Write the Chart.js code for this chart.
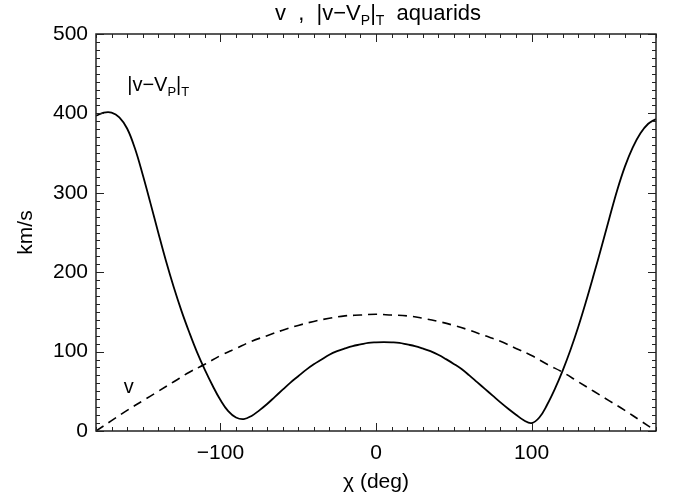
<!DOCTYPE html>
<html>
<head>
<meta charset="utf-8">
<script src="https://cdn.jsdelivr.net/npm/chart.js@4/dist/chart.umd.min.js"></script>
<style>
  html, body { margin: 0; padding: 0; background: #fff; }
  #wrap { width: 679px; height: 498px; }
</style>
</head>
<body>
<div id="wrap"><canvas id="chart"></canvas></div>
<script>
// ---- DATA ----
const chiSolid = [-180,-175,-170,-165,-160,-155,-150,-145,-140,-135,-130,-125,-120,-115,-110,-105,-100,-95,-90,-85,
                  -80,-75,-70,-65,-60,-55,-50,-45,-40,-35,-30,-25,-20,-15,-10,-5,0,5,10,15,
                  20,25,30,35,40,45,50,55,60,65,70,75,80,85,90,95,100,105,110,115,
                  120,125,130,135,140,145,150,155,160,165,170,175,180];
const vRelT = [397,401,401,395,381,356,323,287,250,214,181,151,124,99,77,57,39,25,17,15,
               19,26,34,43,52,61,69,77,84,90,96,100.5,104,107,109,111,111.7,112,111.7,111,
               109,107,104,100.5,96,90.5,84.5,78,70,61.5,53,44.5,36,28,20.5,13.5,10,17,33,53,
               76,102,131,163,197,232,268,303,333,357,375,387,393];

const chiDash = [-180,-170,-160,-150,-140,-130,-120,-110,-100,-90,-80,-70,-60,-50,-40,-30,-20,-10,0,
                 10,20,30,40,50,60,70,80,90,100,110,120,130,140,150,160,170,180];
const vVals = [0,13,26,38,50,62,74,84,95,104,113,120,127,133,138,142,145,146,147,
               146,145,142,138,133,127,120,113,104,95,84,74,62,50,38,26,13,0];

const xTicks = [-100, 0, 100];
const yTicks = [0, 100, 200, 300, 400, 500];

const FONT = "'Liberation Sans', Arial, sans-serif";

function pairs(xs, ys) { return xs.map((x, i) => ({ x: x, y: ys[i] })); }

// text with subscripts: parts = [[text, isSub], ...]
function drawRich(ctx, parts, cx, cy, size) {
    const subSize = Math.round(size * 0.65);
    let total = 0;
    parts.forEach(p => {
        ctx.font = (p[1] ? subSize : size) + 'px ' + FONT;
        total += ctx.measureText(p[0]).width;
    });
    let x = cx - total / 2;
    ctx.textAlign = 'left';
    ctx.textBaseline = 'alphabetic';
    parts.forEach(p => {
        ctx.font = (p[1] ? subSize : size) + 'px ' + FONT;
        ctx.fillText(p[0], x, cy + (p[1] ? size * 0.22 : 0));
        x += ctx.measureText(p[0]).width;
    });
}

// IDL style box: frame, inward ticks on all four sides, title and curve labels
const idlFrame = {
    id: 'idlFrame',
    afterDraw(chart) {
        const { ctx, chartArea: a, scales: { x, y } } = chart;
        ctx.save();
        ctx.strokeStyle = '#222';
        ctx.lineWidth = 1;
        ctx.beginPath();
        for (let v = x.min; v <= x.max; v += 10) {
            const px = Math.round(x.getPixelForValue(v)) + 0.5;
            const len = v % 100 === 0 ? 8 : 4;
            ctx.moveTo(px, a.bottom); ctx.lineTo(px, a.bottom - len);
            ctx.moveTo(px, a.top); ctx.lineTo(px, a.top + len);
        }
        for (let v = y.min; v <= y.max; v += 10) {
            const py = Math.round(y.getPixelForValue(v)) + 0.5;
            const len = v % 100 === 0 ? 8 : 4;
            ctx.moveTo(a.left, py); ctx.lineTo(a.left + len, py);
            ctx.moveTo(a.right, py); ctx.lineTo(a.right - len, py);
        }
        ctx.stroke();
        ctx.lineWidth = 1.5;
        ctx.strokeRect(a.left, a.top, a.right - a.left, a.bottom - a.top);

        ctx.fillStyle = '#000';
        drawRich(ctx, [['v  ,  |v\u2212V', false], ['P', true], ['|', false], ['T', true], ['  aquarids', false]],
                 (a.left + a.right) / 2 + 2, 20, 22);
        drawRich(ctx, [['|v\u2212V', false], ['P', true], ['|', false], ['T', true]],
                 x.getPixelForValue(-140), y.getPixelForValue(428), 20);
        drawRich(ctx, [['v', false]], x.getPixelForValue(-159), y.getPixelForValue(48), 20);
        ctx.restore();
    }
};

new Chart(document.getElementById('chart'), {
    type: 'line',
    data: {
        datasets: [
            {
                label: '|v-Vp|T',
                data: pairs(chiSolid, vRelT),
                borderColor: '#000',
                borderWidth: 1.8,
                pointRadius: 0,
                tension: 0.4,
                fill: false
            },
            {
                label: 'v',
                data: pairs(chiDash, vVals),
                borderColor: '#000',
                borderWidth: 1.6,
                borderDash: [9, 6],
                pointRadius: 0,
                tension: 0.4,
                fill: false
            }
        ]
    },
    options: {
        responsive: true,
        maintainAspectRatio: false,
        animation: false,
        layout: { padding: { left: 0, right: 23, top: 34, bottom: 0 } },
        plugins: {
            legend: { display: false },
            tooltip: { enabled: false }
        },
        scales: {
            x: {
                type: 'linear',
                min: -180,
                max: 180,
                grid: { display: false, drawTicks: false },
                border: { display: false },
                afterBuildTicks: s => { s.ticks = xTicks.map(v => ({ value: v })); },
                afterFit: s => { s.height = 67; },
                ticks: {
                    color: '#000',
                    padding: 10,
                    maxRotation: 0,
                    font: { family: FONT, size: 21 },
                    callback: v => v === 0 ? '0' : (v < 0 ? '\u2212' + Math.abs(v) : String(v))
                },
                title: {
                    display: true,
                    text: '\u03c7 (deg)',
                    color: '#000',
                    padding: { top: 4, bottom: 3 },
                    font: { family: FONT, size: 21 }
                }
            },
            y: {
                min: 0,
                max: 500,
                grid: { display: false, drawTicks: false },
                border: { display: false },
                afterBuildTicks: s => { s.ticks = yTicks.map(v => ({ value: v })); },
                afterFit: s => { s.width = 96; },
                ticks: {
                    color: '#000',
                    padding: 8,
                    font: { family: FONT, size: 21 }
                },
                title: {
                    display: true,
                    text: 'km/s',
                    color: '#000',
                    padding: { top: 14, bottom: 4 },
                    font: { family: FONT, size: 21 }
                }
            }
        }
    },
    plugins: [idlFrame]
});
</script>
</body>
</html>
